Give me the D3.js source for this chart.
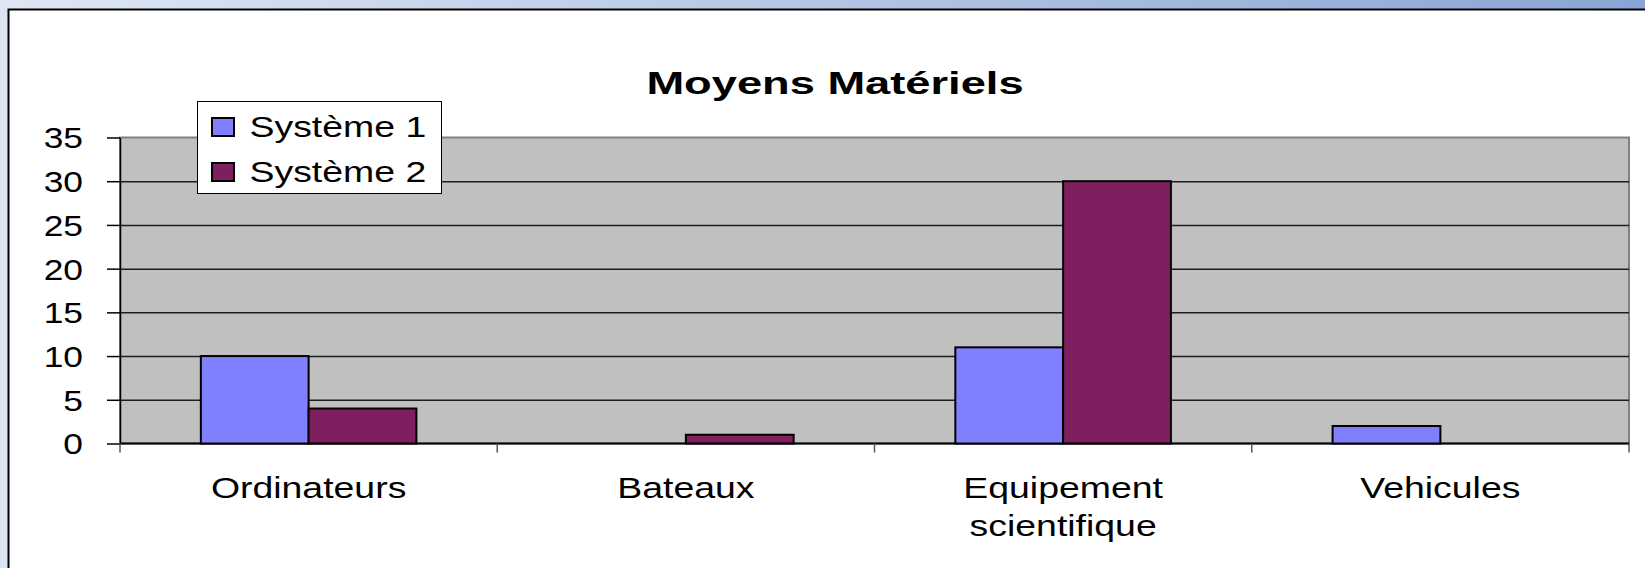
<!DOCTYPE html>
<html>
<head>
<meta charset="utf-8">
<script src="https://cdn.jsdelivr.net/npm/d3@7"></script>
<style>
  body { margin: 0; background: #dde5f1; }
  svg { display: block; }
  text { font-family: "Liberation Sans", Arial, sans-serif; fill: #000; }
</style>
</head>
<body>
<div id="chart"></div>
<script>
const width = 1645;
const height = 568;

// Data
const categories = ['Ordinateurs', 'Bateaux', 'Equipement\nscientifique', 'Vehicules'];
const seriesNames = ['Système 1', 'Système 2'];
const systeme1 = [10, 0, 11, 2];
const systeme2 = [4, 1, 30, 0];
const yTicks = [0, 5, 10, 15, 20, 25, 30, 35];
const colors = ['#8080ff', '#7f1f5f'];

// Plot area
const plotLeft = 120, plotRight = 1629, plotTop = 137.5, plotBottom = 443.5;
const sx = 1.29; // the original picture is stretched sideways

const svg = d3.select('#chart')
  .append('svg')
  .attr('width', width)
  .attr('height', height);

// Frame: blue strip on top, white chart area with black border
const grad = svg.append('defs').append('linearGradient')
  .attr('id', 'topbar')
  .attr('x1', '0%').attr('x2', '100%');
grad.append('stop').attr('offset', '0%').attr('stop-color', '#e0e7f3');
grad.append('stop').attr('offset', '100%').attr('stop-color', '#89a5d5');
svg.append('rect')
  .attr('x', 0).attr('y', 0)
  .attr('width', width).attr('height', 9)
  .attr('fill', 'url(#topbar)');
svg.append('rect')
  .attr('x', 8.5).attr('y', 9.5)
  .attr('width', width + 20).attr('height', height + 20)
  .attr('fill', '#fff')
  .attr('stroke', '#000')
  .attr('stroke-width', 2);

// Scales
const x = d3.scaleBand()
  .domain(categories)
  .range([plotLeft, plotRight])
  .paddingInner(0)
  .paddingOuter(0);
const xSub = d3.scaleBand()
  .domain(seriesNames)
  .range([0, x.bandwidth()])
  .paddingInner(0)
  .paddingOuter(0.75);
const y = d3.scaleLinear()
  .domain([0, 35])
  .range([plotBottom, plotTop]);

// Plot background
svg.append('rect')
  .attr('x', plotLeft).attr('y', plotTop)
  .attr('width', plotRight - plotLeft).attr('height', plotBottom - plotTop)
  .attr('fill', '#c0c0c0')
  .attr('stroke', '#808080')
  .attr('stroke-width', 2);

// Gridlines
svg.append('g')
  .attr('transform', `translate(${plotLeft},0)`)
  .call(d3.axisLeft(y).tickValues(yTicks.slice(1, -1)).tickSize(-(plotRight - plotLeft)).tickFormat(''))
  .call(g => g.select('.domain').remove())
  .call(g => g.selectAll('line').attr('stroke', '#1e1e1e').attr('stroke-width', 1.5));

// Y axis
svg.append('g')
  .attr('class', 'yAxis')
  .attr('transform', `translate(${plotLeft},0)`)
  .call(d3.axisLeft(y).tickValues(yTicks).tickSizeInner(13).tickSizeOuter(0).tickPadding(0))
  .call(g => g.select('.domain').attr('stroke', '#000').attr('stroke-width', 1.5))
  .call(g => g.selectAll('line').attr('stroke', '#000').attr('stroke-width', 1.5))
  .call(g => g.selectAll('text')
    .attr('x', 0)
    .attr('dy', '0.36em')
    .attr('font-size', 29)
    .attr('text-anchor', 'end')
    .attr('fill', '#000')
    .attr('transform', `translate(-37,0) scale(1.22,1)`));

// X axis line and category ticks
svg.append('line')
  .attr('x1', plotLeft).attr('x2', plotRight)
  .attr('y1', plotBottom).attr('y2', plotBottom)
  .attr('stroke', '#000').attr('stroke-width', 2);
svg.selectAll('line.catTick')
  .data(categories.map(c => x(c)).concat([plotRight]))
  .enter()
  .append('line')
  .attr('class', 'catTick')
  .attr('x1', d => d).attr('x2', d => d)
  .attr('y1', plotBottom).attr('y2', plotBottom + 9)
  .attr('stroke', '#555').attr('stroke-width', 1.5);

// Category labels
const labels = svg.selectAll('text.xLabel')
  .data(categories)
  .enter()
  .append('text')
  .attr('class', 'xLabel')
  .attr('text-anchor', 'middle')
  .attr('font-size', 29)
  .attr('transform', d => `translate(${x(d) + x.bandwidth() / 2},498) scale(${sx},1)`);
labels.each(function(d) {
  d3.select(this).selectAll('tspan')
    .data(d.split('\n'))
    .enter()
    .append('tspan')
    .attr('x', 0)
    .attr('dy', (t, i) => i === 0 ? 0 : 38)
    .text(t => t);
});

// Bars
[systeme1, systeme2].forEach((values, s) => {
  svg.selectAll(null)
    .data(values)
    .enter()
    .append('rect')
    .attr('class', 'bar')
    .attr('x', (d, i) => x(categories[i]) + xSub(seriesNames[s]))
    .attr('y', d => y(d))
    .attr('width', xSub.bandwidth())
    .attr('height', d => y(0) - y(d))
    .attr('fill', colors[s])
    .attr('stroke', '#000')
    .attr('stroke-width', 2)
    .style('display', d => d === 0 ? 'none' : null);
});

// Title
svg.append('text')
  .attr('text-anchor', 'middle')
  .attr('font-size', 31)
  .attr('font-weight', 'bold')
  .attr('transform', `translate(835,94) scale(1.46,1)`)
  .text('Moyens Matériels');

// Legend
const legend = svg.append('g').attr('transform', 'translate(197.5,101.5)');
legend.append('rect')
  .attr('width', 244).attr('height', 92)
  .attr('fill', '#fff')
  .attr('stroke', '#000')
  .attr('stroke-width', 1);
seriesNames.forEach((name, i) => {
  legend.append('rect')
    .attr('x', 14.5).attr('y', 16.5 + i * 45)
    .attr('width', 22).attr('height', 18)
    .attr('fill', colors[i])
    .attr('stroke', '#000')
    .attr('stroke-width', 2);
  legend.append('text')
    .attr('font-size', 29)
    .attr('transform', `translate(52,${35 + i * 45}) scale(${sx},1)`)
    .text(name);
});
</script>
</body>
</html>
